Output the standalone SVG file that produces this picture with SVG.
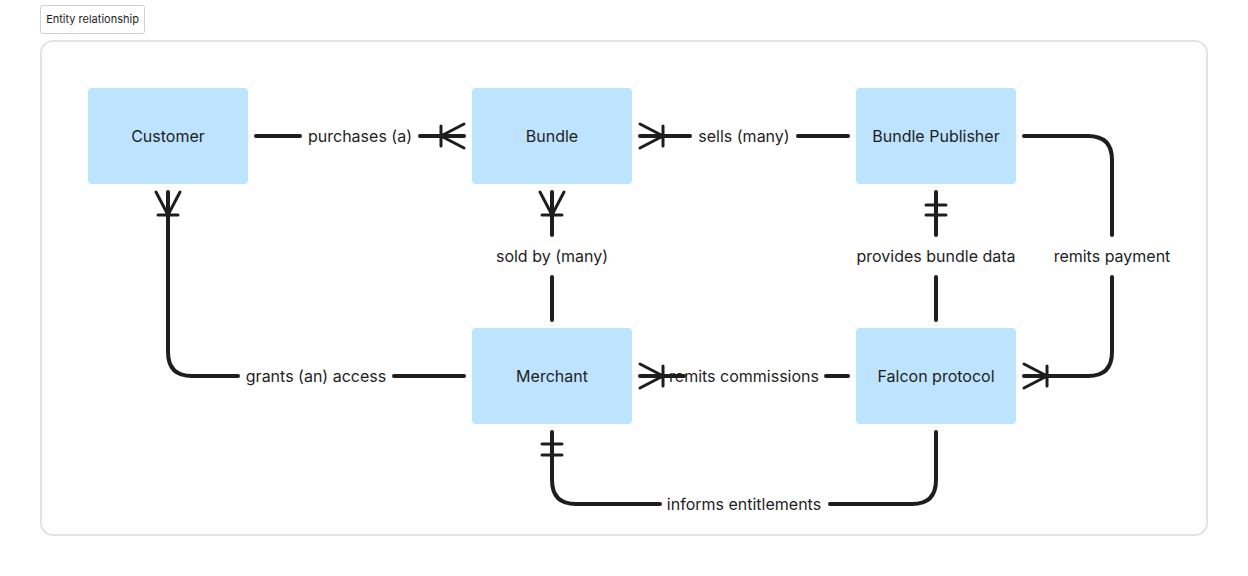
<svg xmlns="http://www.w3.org/2000/svg" width="1248" height="576" viewBox="0 0 1248 576">
<style>
.node{fill:#bde3ff;}
.nt{font-family:Inter,"Noto Sans",sans-serif;font-size:16px;font-weight:400;fill:#1e1e1e;text-anchor:middle;dominant-baseline:central;}
.lt{font-family:Inter,"Noto Sans",sans-serif;font-size:16px;fill:#1e1e1e;text-anchor:middle;dominant-baseline:central;}
.c{fill:none;stroke:#1e1e1e;stroke-width:4;stroke-linecap:round;stroke-linejoin:round;}
.m{fill:none;stroke:#1e1e1e;stroke-width:3;stroke-linecap:round;}
</style>
<rect x="0" y="0" width="1248" height="576" fill="#ffffff"/>
<g id="frame">
<rect x="40.5" y="5.5" width="104" height="28" rx="2" fill="#ffffff" stroke="#d0d0d0"/>
<text x="92.5" y="19" font-family="Inter,'Noto Sans',sans-serif" font-size="11" fill="#1e1e1e" text-anchor="middle" dominant-baseline="central">Entity relationship</text>
<rect x="41" y="41" width="1166" height="494" rx="12" fill="#ffffff" stroke="#e3e3e3" stroke-width="2"/>
</g>
<g id="connectors">
<path class="c" d="M256 136H300M420 136H464"/>
<path class="m" d="M464 124L441 136L464 148M441 126V146"/>
<text class="lt" x="360" y="136">purchases (a)</text>
<path class="c" d="M640 136H690M798 136H848"/>
<path class="m" d="M640 124L663 136L640 148M663 126V146"/>
<text class="lt" x="744" y="136">sells (many)</text>
<path class="c" d="M552 192V235M552 277V320"/>
<path class="m" d="M540 192L552 215L564 192M542 215H562"/>
<text class="lt" x="552" y="256">sold by (many)</text>
<path class="c" d="M936 192V235M936 277V320"/>
<path class="m" d="M926 205H946M926 215H946"/>
<text class="lt" x="936" y="256">provides bundle data</text>
<path class="c" d="M1024 136H1088Q1112 136 1112 160V235M1112 277V352Q1112 376 1088 376H1024"/>
<path class="m" d="M1024 364L1047 376L1024 388M1047 366V386"/>
<text class="lt" x="1112" y="256">remits payment</text>
<path class="c" d="M168 192V352Q168 376 192 376H238M394 376H464"/>
<path class="m" d="M156 192L168 215L180 192M158 215H178"/>
<text class="lt" x="316" y="376">grants (an) access</text>
<path class="c" d="M640 376H684M826 376H848"/>
<path class="m" d="M640 364L663 376L640 388M663 366V386"/>
<text class="lt" x="744" y="376">remits commissions</text>
<path class="c" d="M936 432V480Q936 504 912 504H830M660 504H576Q552 504 552 480V432"/>
<path class="m" d="M542 444H562M542 455H562"/>
<text class="lt" x="744" y="504">informs entitlements</text>
</g>
<g id="customer"><rect class="node" x="88" y="88" width="160" height="96" rx="4"/><text class="nt" x="168" y="136">Customer</text></g>
<g id="bundle"><rect class="node" x="472" y="88" width="160" height="96" rx="4"/><text class="nt" x="552" y="136">Bundle</text></g>
<g id="bundle-publisher"><rect class="node" x="856" y="88" width="160" height="96" rx="4"/><text class="nt" x="936" y="136">Bundle Publisher</text></g>
<g id="merchant"><rect class="node" x="472" y="328" width="160" height="96" rx="4"/><text class="nt" x="552" y="376">Merchant</text></g>
<g id="falcon-protocol"><rect class="node" x="856" y="328" width="160" height="96" rx="4"/><text class="nt" x="936" y="376">Falcon protocol</text></g>
</svg>
